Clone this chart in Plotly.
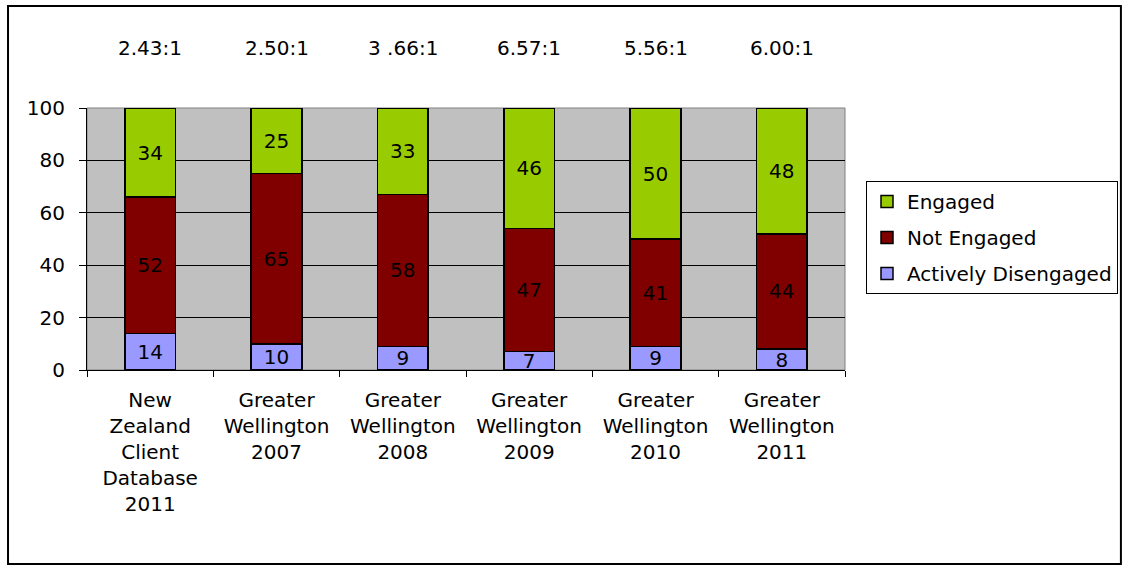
import plotly.graph_objects as go

categories = [
    "New<br>Zealand<br>Client<br>Database<br>2011",
    "Greater<br>Wellington<br>2007",
    "Greater<br>Wellington<br>2008",
    "Greater<br>Wellington<br>2009",
    "Greater<br>Wellington<br>2010",
    "Greater<br>Wellington<br>2011",
]
actively_disengaged = [14, 10, 9, 7, 9, 8]
not_engaged = [52, 65, 58, 47, 41, 44]
engaged = [34, 25, 33, 46, 50, 48]
ratios = ["2.43:1", "2.50:1", "3 .66:1", "6.57:1", "5.56:1", "6.00:1"]

FONT = "DejaVu Sans, Arial, sans-serif"
FS = 20

fig = go.Figure()
series = [
    ("Actively Disengaged", actively_disengaged, "#9999FF", 3),
    ("Not Engaged", not_engaged, "#800000", 2),
    ("Engaged", engaged, "#99CC00", 1),
]
for name, vals, col, rank in series:
    fig.add_trace(go.Bar(
        name=name, x=categories, y=vals, text=[str(v) for v in vals],
        textposition="inside", insidetextanchor="middle", textangle=0,
        constraintext="none", cliponaxis=False,
        insidetextfont=dict(family=FONT, size=FS, color="black"),
        marker=dict(color=col, line=dict(color="black", width=1.5)),
        width=0.4, legendgroup=name, legendrank=rank,
    ))

for c, r in zip(categories, ratios):
    fig.add_annotation(x=c, y=1.229, xref="x", yref="paper", yanchor="middle",
                       text=r, showarrow=False,
                       font=dict(family=FONT, size=FS, color="black"))

# outer chart frame
fig.add_shape(type="rect", xref="paper", yref="paper",
              x0=-0.1042, x1=1.364, y0=-0.74, y1=1.389,
              line=dict(color="black", width=2), layer="below")
# plot area border
fig.add_shape(type="rect", xref="paper", yref="paper",
              x0=0, x1=1, y0=0, y1=1,
              line=dict(color="#808080", width=1), layer="between")

fig.update_layout(
    width=1124, height=565,
    margin=dict(l=87, r=279, t=108, b=195, autoexpand=False),
    barmode="stack",
    bargap=0.6,
    paper_bgcolor="white",
    plot_bgcolor="#C0C0C0",
    font=dict(family=FONT, size=FS, color="black"),
    showlegend=True,
    legend=dict(
        x=1.0277, y=0.721, xanchor="left", yanchor="top",
        bgcolor="white", bordercolor="black", borderwidth=1,
        traceorder="grouped", tracegroupgap=7,
        font=dict(family=FONT, size=FS, color="black"),
    ),
    xaxis=dict(
        showline=True, linecolor="black", linewidth=1,
        ticks="outside", ticklen=6, tickcolor="black",
        tickson="boundaries", showgrid=False,
        tickfont=dict(family=FONT, size=FS), ticklabelstandoff=12,
    ),
    yaxis=dict(
        range=[0, 100], dtick=20, showline=True, linecolor="black", linewidth=1,
        ticks="outside", ticklen=7, tickcolor="black",
        showgrid=True, gridcolor="black", gridwidth=1,
        zeroline=False,
        tickfont=dict(family=FONT, size=FS), ticklabelstandoff=10,
    ),
)

fig.write_html("out.html")
